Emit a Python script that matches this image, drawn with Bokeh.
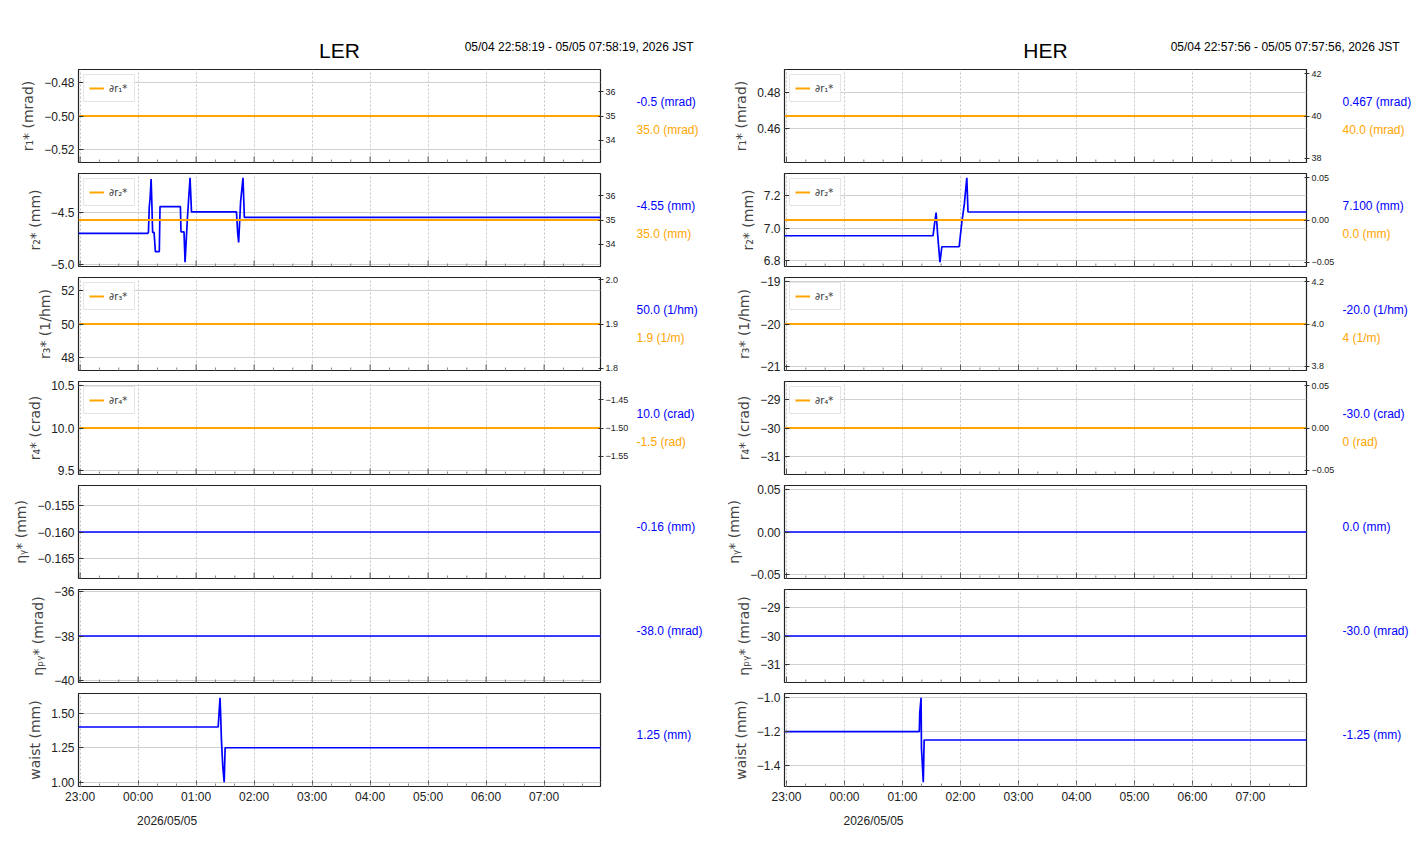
import math
import pandas as pd
from bokeh.plotting import figure
from bokeh.models import (Range1d, LinearAxis, DatetimeAxis, FixedTicker, Legend,
                          LegendItem, ColumnDataSource)
from bokeh.layouts import column, row
from bokeh.embed import file_html
from bokeh.resources import INLINE
from bokeh.core.properties import value

# ---------------- data ----------------
hour_tick_times = ["2026-05-04 23:00", "2026-05-05 00:00", "2026-05-05 01:00",
                   "2026-05-05 02:00", "2026-05-05 03:00", "2026-05-05 04:00",
                   "2026-05-05 05:00", "2026-05-05 06:00", "2026-05-05 07:00"]
hour_tick_labels = ["23:00", "00:00", "01:00", "02:00", "03:00", "04:00",
                    "05:00", "06:00", "07:00"]
date_label_time = "2026-05-05 00:30"
date_label_text = "2026/05/05"

ler_window = ["2026-05-04 22:58:19", "2026-05-05 07:58:19"]
her_window = ["2026-05-04 22:57:56", "2026-05-05 07:57:56"]
ler_title, ler_period = "LER", "05/04 22:58:19 - 05/05 07:58:19, 2026 JST"
her_title, her_period = "HER", "05/04 22:57:56 - 05/05 07:57:56, 2026 JST"

axis_labels = ["r\u2081* (mrad)", "r\u2082* (mm)", "r\u2083* (1/hm)", "r\u2084* (crad)",
               "\u03b7\u1d67* (mm)", "\u03b7\u209a\u1d67* (mrad)", "waist (mm)"]
legend_labels = ["\u2202r\u2081*", "\u2202r\u2082*", "\u2202r\u2083*", "\u2202r\u2084*"]

# LER series (blue = primary axis, orange = secondary axis)
ler_r1 = [-0.5, -0.5]
ler_r1_sec = [35.0, 35.0]
ler_r2_time = ["2026-05-04 22:58:19", "2026-05-05 00:09:46", "2026-05-05 00:10:40",
               "2026-05-05 00:11:30", "2026-05-05 00:12:30", "2026-05-05 00:13:25",
               "2026-05-05 00:14:10", "2026-05-05 00:15:00", "2026-05-05 00:16:30",
               "2026-05-05 00:17:06", "2026-05-05 00:17:50", "2026-05-05 00:21:55",
               "2026-05-05 00:22:39", "2026-05-05 00:43:44", "2026-05-05 00:44:20",
               "2026-05-05 00:47:27", "2026-05-05 00:48:33", "2026-05-05 00:51:00",
               "2026-05-05 00:53:43", "2026-05-05 00:55:12", "2026-05-05 01:41:45",
               "2026-05-05 01:43:00", "2026-05-05 01:44:00", "2026-05-05 01:46:00",
               "2026-05-05 01:48:28", "2026-05-05 01:49:55", "2026-05-05 07:58:19"]
ler_r2 = [-4.70, -4.70, -4.69, -4.45, -4.35, -4.18,
          -4.40, -4.69, -4.69,
          -4.77, -4.873, -4.873,
          -4.443, -4.443, -4.684,
          -4.684, -4.975, -4.55,
          -4.168, -4.494, -4.494,
          -4.70, -4.785, -4.40,
          -4.168, -4.547, -4.547]
ler_r2_sec = [35.0, 35.0]
ler_r3 = [50.0, 50.0]
ler_r3_sec = [1.9, 1.9]
ler_r4 = [10.0, 10.0]
ler_r4_sec = [-1.5, -1.5]
ler_eta_y = [-0.16, -0.16]
ler_eta_py = [-38.0, -38.0]
ler_waist_time = ["2026-05-04 22:58:19", "2026-05-05 01:22:49", "2026-05-05 01:23:46",
                  "2026-05-05 01:24:43", "2026-05-05 01:25:20", "2026-05-05 01:26:10",
                  "2026-05-05 01:27:36", "2026-05-05 01:29:02", "2026-05-05 01:30:00",
                  "2026-05-05 07:58:19"]
ler_waist = [1.40, 1.40, 1.505, 1.612, 1.50, 1.307, 1.112, 1.00, 1.25, 1.25]

# HER series
her_r1 = [0.467, 0.467]
her_r1_sec = [40.0, 40.0]
her_r2_time = ["2026-05-04 22:57:56", "2026-05-05 01:31:36", "2026-05-05 01:33:00",
               "2026-05-05 01:34:46", "2026-05-05 01:36:30", "2026-05-05 01:38:44",
               "2026-05-05 01:40:43", "2026-05-05 01:58:36", "2026-05-05 02:01:21",
               "2026-05-05 02:04:00", "2026-05-05 02:06:32", "2026-05-05 02:07:46",
               "2026-05-05 07:57:56"]
her_r2 = [6.953, 6.953, 7.02, 7.096, 6.95, 6.789, 6.885, 6.885, 7.035,
          7.15, 7.312, 7.10, 7.10]
her_r2_sec = [0.0, 0.0]
her_r3 = [-20.0, -20.0]
her_r3_sec = [4.0, 4.0]
her_r4 = [-30.0, -30.0]
her_r4_sec = [0.0, 0.0]
her_eta_y = [0.0, 0.0]
her_eta_py = [-30.0, -30.0]
her_waist_time = ["2026-05-04 22:57:56", "2026-05-05 01:17:23", "2026-05-05 01:17:51",
                  "2026-05-05 01:19:13", "2026-05-05 01:19:38", "2026-05-05 01:20:36",
                  "2026-05-05 01:21:30", "2026-05-05 01:22:25", "2026-05-05 07:57:56"]
her_waist = [-1.20, -1.20, -1.09, -1.00, -1.30, -1.40, -1.50, -1.25, -1.25]

# tick values / labels (left axis)
ler_ticks = [[-0.52, -0.50, -0.48], [-5.0, -4.5], [48, 50, 52], [9.5, 10.0, 10.5],
             [-0.165, -0.160, -0.155], [-40, -38, -36], [1.00, 1.25, 1.50]]
ler_tick_labels = [["\u22120.52", "\u22120.50", "\u22120.48"], ["\u22125.0", "\u22124.5"],
                   ["48", "50", "52"], ["9.5", "10.0", "10.5"],
                   ["\u22120.165", "\u22120.160", "\u22120.155"],
                   ["\u221240", "\u221238", "\u221236"], ["1.00", "1.25", "1.50"]]
her_ticks = [[0.46, 0.48], [6.8, 7.0, 7.2], [-21, -20, -19], [-31, -30, -29],
             [-0.05, 0.0, 0.05], [-31, -30, -29], [-1.4, -1.2, -1.0]]
her_tick_labels = [["0.46", "0.48"], ["6.8", "7.0", "7.2"],
                   ["\u221221", "\u221220", "\u221219"], ["\u221231", "\u221230", "\u221229"],
                   ["\u22120.05", "0.00", "0.05"], ["\u221231", "\u221230", "\u221229"],
                   ["\u22121.4", "\u22121.2", "\u22121.0"]]
# secondary (right) axis
ler_sec_ticks = [[34, 35, 36], [34, 35, 36], [1.8, 1.9, 2.0], [-1.55, -1.50, -1.45]]
ler_sec_labels = [["34", "35", "36"], ["34", "35", "36"], ["1.8", "1.9", "2.0"],
                  ["\u22121.55", "\u22121.50", "\u22121.45"]]
her_sec_ticks = [[38, 40, 42], [-0.05, 0.0, 0.05], [3.8, 4.0, 4.2], [-0.05, 0.0, 0.05]]
her_sec_labels = [["38", "40", "42"], ["\u22120.05", "0.00", "0.05"], ["3.8", "4.0", "4.2"],
                  ["\u22120.05", "0.00", "0.05"]]

# annotation texts on the right
ler_texts = [["-0.5 (mrad)", "35.0 (mrad)"], ["-4.55 (mm)", "35.0 (mm)"],
             ["50.0 (1/hm)", "1.9 (1/m)"], ["10.0 (crad)", "-1.5 (rad)"],
             ["-0.16 (mm)"], ["-38.0 (mrad)"], ["1.25 (mm)"]]
her_texts = [["0.467 (mrad)", "40.0 (mrad)"], ["7.100 (mm)", "0.0 (mm)"],
             ["-20.0 (1/hm)", "4 (1/m)"], ["-30.0 (crad)", "0 (rad)"],
             ["0.0 (mm)"], ["-30.0 (mrad)"], ["-1.25 (mm)"]]

# ---------------- styling ----------------
BLUE = "#0000ff"
ORANGE = "#ffa500"
NARROW = "Liberation Sans"
SANS = "DejaVu Sans"
FW, FH = 522, 93
LB, RB, TW = 78, 32, 74      # left border, right border, text-column width
COLW = LB + FW + RB + TW     # 706


def ms(s):
    return pd.Timestamp(s).value // 10**6


hour_ms = [ms(s) for s in hour_tick_times]
minor_ms = [int(t.value // 10**6) for t in
            pd.date_range("2026-05-04 22:40", "2026-05-05 08:00", freq="20min")]
minor_only = [m for m in minor_ms if m not in hour_ms]


def auto_range(vals):
    lo, hi = min(vals), max(vals)
    if hi == lo:
        d = abs(lo) * 0.05 if lo != 0 else 0.05
        lo, hi = lo - d, hi + d
    m = (hi - lo) * 0.05
    return lo - m, hi + m


def blank_fig(w, h, top=0, bottom=0):
    f = figure(frame_width=w, frame_height=h, x_range=Range1d(0, w), y_range=Range1d(0, h),
               x_axis_location=None, y_axis_location=None, output_backend="svg",
               toolbar_location=None, min_border_left=0, min_border_right=0,
               min_border_top=top, min_border_bottom=bottom)
    f.outline_line_color = None
    f.grid.visible = False
    return f


def make_header(title, period):
    h = blank_fig(COLW, 69)
    h.text(x=[LB + FW / 2], y=[19], text=[title], text_font=value(NARROW),
           text_font_size="21px", text_align="center", text_baseline="middle",
           text_color="black")
    h.text(x=[LB + FW + 93], y=[23], text=[period], text_font=value(NARROW),
           text_font_size="12px", text_align="right", text_baseline="middle",
           text_color="black")
    return h


def make_col(window, title, period, series, ticks, tlabels, sec_series, sec_ticks,
             sec_labels, texts):
    rows = [make_header(title, period)]
    n = len(series)
    for i in range(n):
        last = i == n - 1
        top = 0 if i == 0 else 6
        bottom = 78 if last else 5
        times, vals = series[i]
        lo, hi = auto_range(vals)
        p = figure(frame_width=FW, frame_height=FH, x_axis_type="datetime",
                   x_range=Range1d(pd.Timestamp(window[0]), pd.Timestamp(window[1])),
                   y_range=Range1d(lo, hi), output_backend="svg", toolbar_location=None,
                   min_border_left=LB, min_border_right=RB,
                   min_border_top=top, min_border_bottom=bottom)
        p.outline_line_color = "#222222"
        p.outline_line_width = 1.2

        xt = FixedTicker(ticks=hour_ms, minor_ticks=minor_ms)
        p.xgrid.ticker = xt
        p.xgrid.grid_line_color = "#c4c4c4"
        p.xgrid.grid_line_dash = "2 2"
        xa = p.xaxis[0]
        if last:
            xa.ticker = xt
            xa.major_label_overrides = {k: v for k, v in zip(hour_ms, hour_tick_labels)}
            xa.axis_line_color = None
            xa.major_tick_in, xa.major_tick_out = 6, 0
            xa.minor_tick_in, xa.minor_tick_out = 3, 0
            xa.major_tick_line_color = "#555555"
            xa.minor_tick_line_color = "#888888"
            xa.major_label_text_font = NARROW
            xa.major_label_text_font_size = "12px"
            xa.major_label_text_color = "#222222"
            xa.major_label_standoff = 3
            da = DatetimeAxis(ticker=FixedTicker(ticks=[ms(date_label_time)]))
            da.major_label_overrides = {ms(date_label_time): date_label_text}
            da.axis_line_color = None
            da.major_tick_line_color = None
            da.minor_tick_line_color = None
            da.major_label_text_font = NARROW
            da.major_label_text_font_size = "12px"
            da.major_label_text_color = "#222222"
            da.major_label_standoff = 1
            p.add_layout(da, "below")
        else:
            xa.visible = False
            # inward tick marks along the bottom edge of the frame
            p.scatter(x=hour_ms, y=[lo] * len(hour_ms), marker="dash", angle=math.pi / 2,
                      size=12, line_color="#555555", line_width=1)
            p.scatter(x=minor_only, y=[lo] * len(minor_only), marker="dash",
                      angle=math.pi / 2, size=6, line_color="#888888", line_width=1)

        yt = FixedTicker(ticks=ticks[i])
        ya = p.yaxis[0]
        ya.ticker = yt
        p.ygrid.ticker = yt
        ya.major_label_overrides = {k: v for k, v in zip(ticks[i], tlabels[i])}
        ya.axis_line_color = None
        ya.major_tick_in, ya.major_tick_out = 5, 0
        ya.minor_tick_line_color = None
        ya.major_tick_line_color = "#333333"
        ya.major_label_text_font = NARROW
        ya.major_label_text_font_size = "12px"
        ya.major_label_text_color = "#222222"
        ya.major_label_standoff = 4
        ya.axis_label = axis_labels[i]
        ya.axis_label_text_font = SANS
        ya.axis_label_text_font_style = "normal"
        ya.axis_label_text_font_size = "14px"
        ya.axis_label_standoff = 5
        p.ygrid.grid_line_color = "#d0d0d0"

        src = ColumnDataSource(dict(t=pd.to_datetime(times), v=vals))
        p.line("t", "v", source=src, color=BLUE, line_width=1.7)

        if i < len(sec_series):
            sv = sec_series[i]
            slo, shi = auto_range(sv)
            p.extra_y_ranges = {"sec": Range1d(slo, shi)}
            sa = LinearAxis(y_range_name="sec", ticker=FixedTicker(ticks=sec_ticks[i]))
            sa.major_label_overrides = {k: v for k, v in zip(sec_ticks[i], sec_labels[i])}
            sa.axis_line_color = None
            sa.major_tick_in, sa.major_tick_out = 2, 3
            sa.minor_tick_line_color = None
            sa.major_tick_line_color = "#333333"
            sa.major_label_text_font = NARROW
            sa.major_label_text_font_size = "9px"
            sa.major_label_text_color = "#222222"
            sa.major_label_standoff = 2
            p.add_layout(sa, "right")
            ssrc = ColumnDataSource(dict(t=pd.to_datetime(list(window)), v=sv))
            r = p.line("t", "v", source=ssrc, color=ORANGE, line_width=2,
                       y_range_name="sec")
            leg = Legend(items=[LegendItem(label=legend_labels[i], renderers=[r])],
                         location="top_left")
            leg.label_text_font = SANS
            leg.label_text_font_size = "10px"
            leg.label_text_color = "#333333"
            leg.glyph_width = 15
            leg.glyph_height = 16
            leg.label_height = 16
            leg.label_standoff = 5
            leg.padding = 5
            leg.margin = 5
            leg.spacing = 0
            leg.border_line_color = "#cccccc"
            leg.background_fill_alpha = 0.85
            p.add_layout(leg)

        # right-hand value texts
        tf = blank_fig(TW, FH, top=top, bottom=bottom)
        tx = texts[i]
        if len(tx) == 2:
            ys = [FH / 2 + 14, FH / 2 - 14]
            cols = [BLUE, ORANGE]
        else:
            ys = [FH / 2 + 5]
            cols = [BLUE]
        tf.text(x=[4] * len(tx), y=ys, text=tx, text_color=cols, text_font=value(NARROW),
                text_font_size="12px", text_baseline="middle", text_align="left")
        rows.append(row(p, tf, spacing=0))
    return column(*rows, spacing=0)


ler_series = [(ler_window, ler_r1), (ler_r2_time, ler_r2), (ler_window, ler_r3),
              (ler_window, ler_r4), (ler_window, ler_eta_y), (ler_window, ler_eta_py),
              (ler_waist_time, ler_waist)]
her_series = [(her_window, her_r1), (her_r2_time, her_r2), (her_window, her_r3),
              (her_window, her_r4), (her_window, her_eta_y), (her_window, her_eta_py),
              (her_waist_time, her_waist)]

left = make_col(ler_window, ler_title, ler_period, ler_series, ler_ticks, ler_tick_labels,
                [ler_r1_sec, ler_r2_sec, ler_r3_sec, ler_r4_sec], ler_sec_ticks,
                ler_sec_labels, ler_texts)
right = make_col(her_window, her_title, her_period, her_series, her_ticks, her_tick_labels,
                 [her_r1_sec, her_r2_sec, her_r3_sec, her_r4_sec], her_sec_ticks,
                 her_sec_labels, her_texts)

layout = row(left, right, spacing=0)
open("out.html", "w").write(file_html(layout, INLINE))
